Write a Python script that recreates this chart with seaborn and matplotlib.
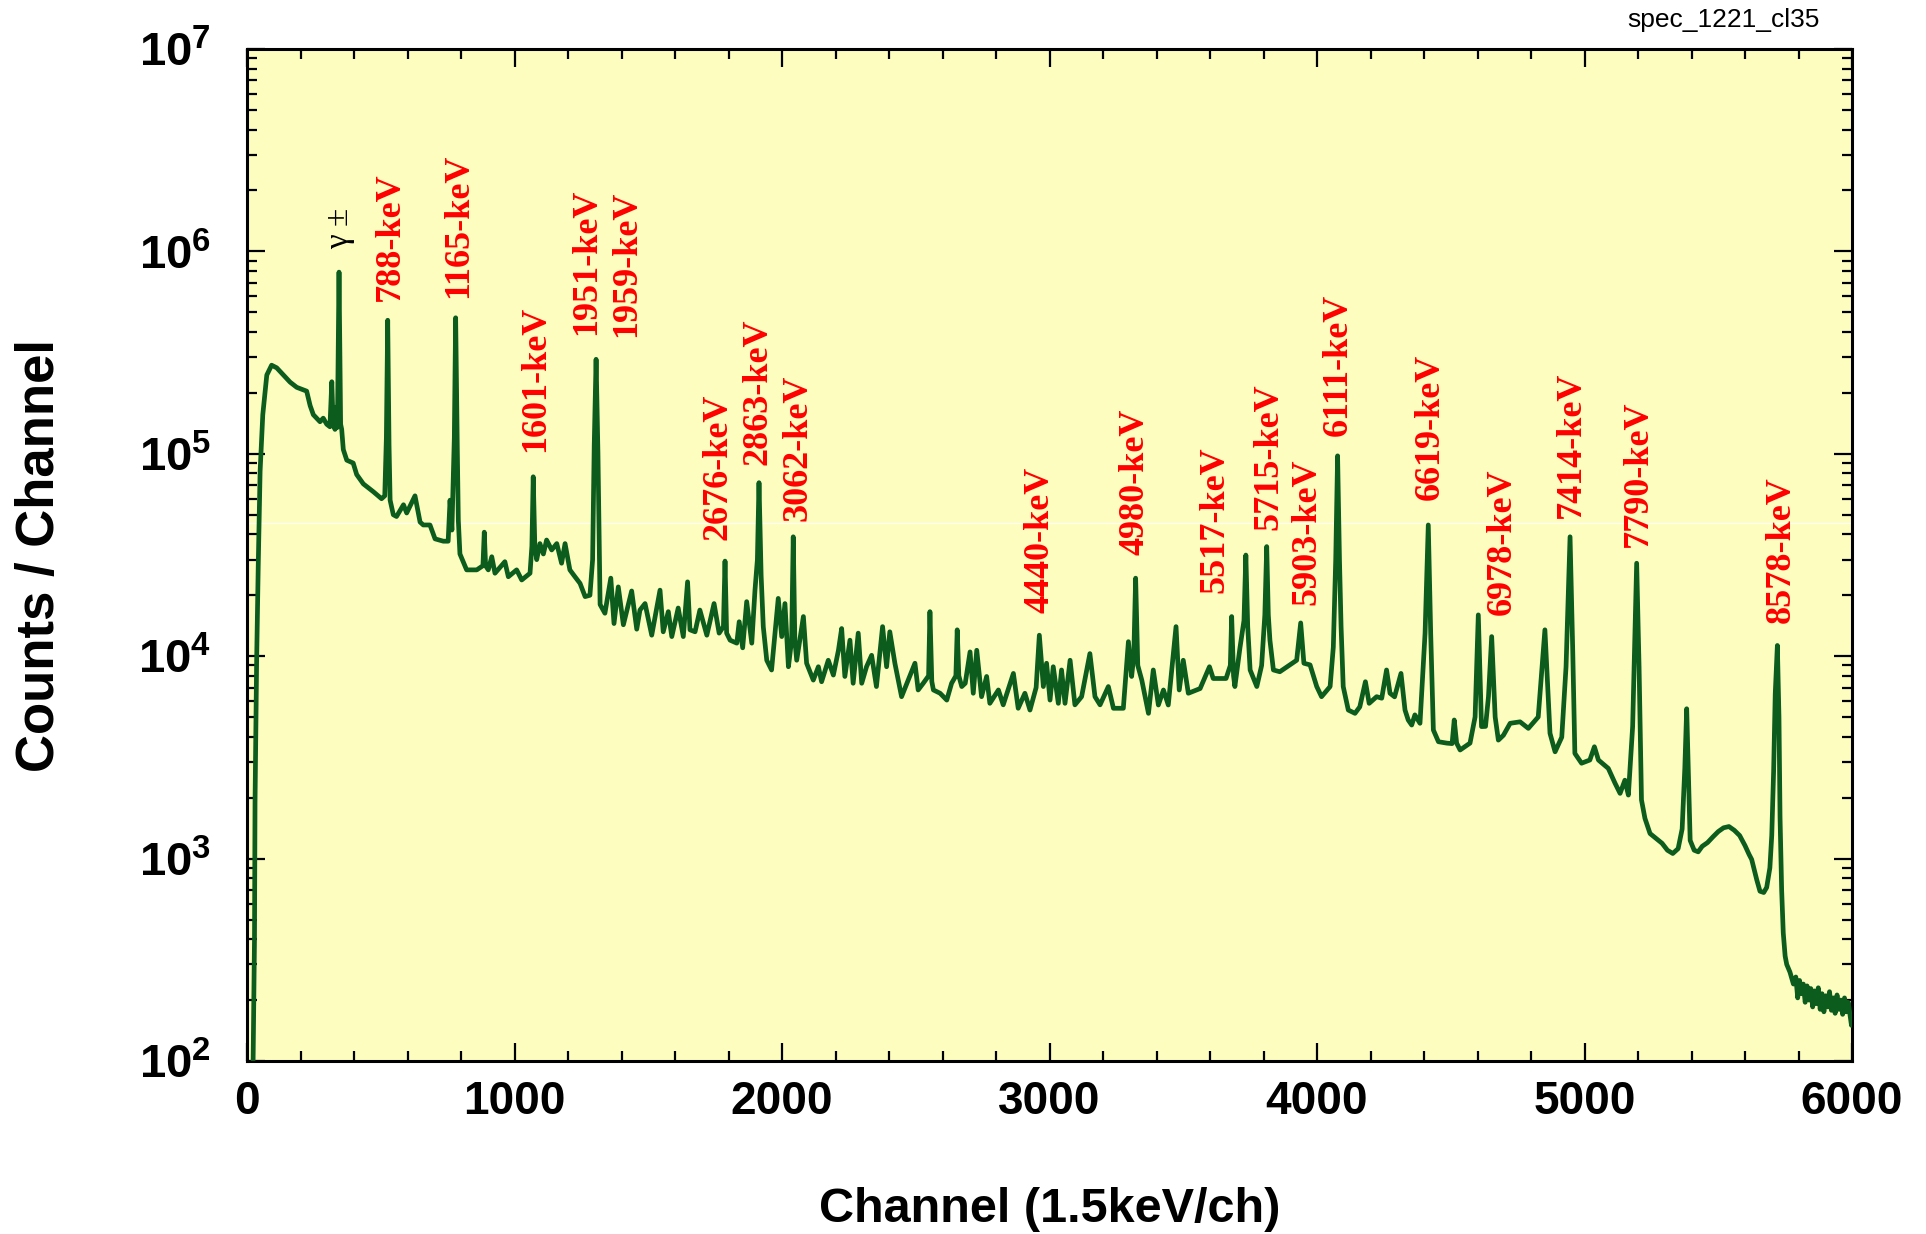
import matplotlib
matplotlib.use("Agg")
import matplotlib.pyplot as plt
from matplotlib.ticker import MultipleLocator, LogLocator, NullFormatter
import seaborn as sns
import pandas as pd

# ---------------- data ----------------
channel = [
    15, 22, 28, 30, 36, 42, 49, 59, 74, 92, 111, 136, 161, 186, 223, 236, 248, 273, 285, 298,
    310, 317, 322, 329, 334, 338, 344, 350, 354, 360, 373, 397, 410, 435, 472, 503, 515, 521,
    526, 531, 535, 547, 559, 585, 597, 628, 647, 659, 684, 703, 734, 752, 759, 766, 775, 780,
    786, 790, 796, 821, 859, 882, 887, 892, 902, 915, 927, 964, 977, 1008, 1027, 1058, 1065,
    1070, 1076, 1083, 1095, 1108, 1120, 1139, 1158, 1176, 1189, 1207, 1226, 1245, 1264, 1282,
    1292, 1298, 1305, 1312, 1320, 1338, 1360, 1372, 1388, 1407, 1438, 1457, 1469, 1488, 1513,
    1544, 1556, 1575, 1588, 1612, 1631, 1647, 1656, 1675, 1693, 1719, 1746, 1765, 1781, 1787,
    1793, 1806, 1831, 1840, 1853, 1868, 1887, 1899, 1908, 1914, 1922, 1930, 1943, 1961, 1986,
    1999, 2011, 2024, 2036, 2042, 2048, 2055, 2080, 2092, 2117, 2136, 2148, 2173, 2192, 2211,
    2223, 2235, 2254, 2266, 2285, 2298, 2316, 2335, 2353, 2376, 2391, 2403, 2422, 2447, 2472,
    2497, 2509, 2528, 2548, 2553, 2560, 2566, 2591, 2616, 2634, 2650, 2655, 2661, 2672, 2685,
    2703, 2715, 2728, 2746, 2765, 2777, 2809, 2827, 2865, 2883, 2908, 2927, 2950, 2962, 2977,
    2989, 3002, 3014, 3033, 3045, 3058, 3077, 3095, 3120, 3151, 3170, 3189, 3220, 3239, 3276,
    3295, 3307, 3315, 3322, 3330, 3345, 3370, 3388, 3407, 3426, 3444, 3473, 3485, 3500, 3519,
    3563, 3598, 3612, 3660, 3676, 3681, 3688, 3693, 3712, 3727, 3734, 3741, 3750, 3775, 3793,
    3805, 3812, 3818, 3824, 3837, 3861, 3899, 3924, 3939, 3951, 3974, 3999, 4017, 4049, 4061,
    4070, 4077, 4084, 4090, 4098, 4117, 4142, 4160, 4181, 4195, 4223, 4242, 4260, 4273, 4290,
    4314, 4329, 4341, 4354, 4366, 4385, 4404, 4416, 4425, 4435, 4454, 4485, 4505, 4513, 4522,
    4535, 4572, 4591, 4603, 4615, 4630, 4641, 4653, 4666, 4678, 4697, 4722, 4759, 4790, 4827,
    4852, 4871, 4890, 4915, 4931, 4946, 4956, 4964, 4989, 5020, 5037, 5052, 5089, 5114, 5133,
    5151, 5164, 5180, 5195, 5204, 5213, 5226, 5245, 5270, 5290, 5310, 5330, 5350, 5365, 5375,
    5382, 5389, 5395, 5410, 5425, 5440, 5460, 5480, 5500, 5520, 5540, 5560, 5580, 5600, 5615,
    5625, 5644, 5656, 5670, 5681, 5693, 5700, 5707, 5713, 5721, 5727, 5731, 5737, 5743, 5750,
    5756, 5768, 5781, 5790, 5797, 5804, 5811, 5818, 5825, 5832, 5839, 5846, 5853, 5860, 5867,
    5874, 5881, 5888, 5895, 5902, 5909, 5916, 5923, 5930, 5937, 5944, 5951, 5958, 5965, 5972,
    5979, 5986, 5993, 5998, 6000,
]
counts = [
    60, 80, 400, 1900, 9500, 28000, 82000, 156000, 245000, 274000, 266000, 245000, 226000, 213000,
    204000, 173000, 156000, 144000, 150000, 140000,
    136000, 227000, 140000, 132000, 170000, 135000, 790000, 140000, 132000, 105000, 93000, 90000,
    79000, 71000, 65000, 60000, 62000, 120000,
    457000, 110000, 59000, 50000, 49000, 56000, 51000, 62000, 46000, 44500, 44500, 38000, 37000,
    37000, 59000, 42000, 120000, 470000,
    110000, 47000, 32000, 26700, 26700, 28000, 41000, 28000, 26700, 31000, 25700, 29300, 24700,
    26700, 23800, 25700, 35000,
    77000, 35000, 30000, 36000, 32000, 37500, 33500, 36000, 28800, 36000, 26700, 24700, 22900,
    19700, 20000,
    30000, 110000, 293000, 100000, 18000, 16300, 24300, 14500, 22000, 14300, 21000, 13600, 16900,
    18200, 12700,
    21200, 13200, 16600, 12500, 17300, 12500, 23300, 13500, 13200, 16900, 12700, 18200, 13000,
    14000, 29500,
    13000, 12000, 11600, 14800, 11000, 18600, 11600, 21200, 30000, 72000, 25000, 14000, 9550,
    8550, 19300,
    12500, 18200, 8870, 12000, 38900, 12000, 9550, 15700, 9230, 7620, 8870, 7480, 9550, 8070,
    10700,
    13700, 7940, 12000, 7350, 13000, 7350, 8870, 10100, 7080, 14000, 8870, 13200, 9230, 6310,
    7620,
    9230, 6810, 7350, 8000, 16600, 7500, 6810, 6560, 6070, 7350, 8000, 13500, 8000, 7080, 7350,
    10500, 6560, 10700, 6310, 7940, 5850, 6810, 5750, 8220, 5530, 6560, 5420, 7000, 12700, 7080,
    9230, 6070, 8870, 5850, 8550, 5850, 9550, 5750, 6310, 10300, 6310, 5750, 7080, 5530, 5530,
    11800, 7940, 10000, 24300, 9000, 7620, 5220, 8550, 5740, 6810, 5740, 14000, 6810, 9550, 6560,
    6920, 8870, 7760, 7760, 9000, 15700, 8000, 7080, 11000, 15000, 31600, 14000, 8550, 7080, 9000,
    16000, 34800, 16000, 12000, 8550, 8380, 9060, 9550, 14600, 9230, 9060, 7080, 6310, 7080,
    11100,
    30000, 97700, 30000, 14000, 7080, 5420, 5220, 5620, 7480, 5850, 6310, 6200, 8550, 6560, 6300,
    8220, 5420, 4840, 4570, 5130, 4660, 13000, 44500, 13000, 4320, 3780, 3720, 3700, 4840, 3720,
    3440, 3720, 5010, 16000, 4490, 4500, 6310, 12500, 5010, 3850, 4070, 4660, 4740, 4400, 5010,
    13500, 4160, 3370, 3980, 8870, 38900, 10700, 3310, 2960, 3070, 3570, 3070, 2790, 2360, 2100,
    2440, 2060, 4500, 28800, 8870, 1950, 1580, 1330, 1250, 1190, 1100, 1060, 1120, 1400, 2800,
    5500, 2500, 1230, 1100, 1080, 1150, 1200, 1280, 1360, 1420, 1440, 1380, 1300, 1160, 1050,
    990, 785, 690, 680, 720, 900, 1300, 2700, 6500, 11300, 5000, 1600, 700, 430, 330,
    300, 275, 240, 260, 205, 250, 215, 240, 195, 235, 200, 228, 185, 222, 192,
    230, 180, 215, 175, 210, 185, 220, 178, 205, 172, 212, 180, 200, 170, 205,
    175, 195, 168, 150, 170,
]

peak_labels = ["788-keV", "1165-keV", "1601-keV", "1951-keV", "1959-keV", "2676-keV",
               "2863-keV", "3062-keV", "4440-keV", "4980-keV", "5517-keV", "5715-keV",
               "5903-keV", "6111-keV", "6619-keV", "6978-keV", "7414-keV", "7790-keV",
               "8578-keV"]
label_channel = [535, 790, 1080, 1270, 1419, 1762, 1911, 2061, 2964, 3320, 3619, 3822,
                 3961, 4080, 4425, 4694, 4952, 5201, 5737]
label_counts = [5.7e5, 5.86e5, 1.02e5, 3.86e5, 3.79e5, 3.75e4, 8.8e4, 4.68e4, 1.63e4,
                3.16e4, 2.05e4, 4.2e4, 1.79e4, 1.22e5, 5.9e4, 1.6e4, 4.8e4, 3.48e4, 1.46e4]

annih_label = "γ ±"
annih_channel = 348
annih_counts = 1.03e6

x_ticks = [0, 1000, 2000, 3000, 4000, 5000, 6000]
x_tick_labels = ["0", "1000", "2000", "3000", "4000", "5000", "6000"]
y_ticks = [1e2, 1e3, 1e4, 1e5, 1e6, 1e7]
y_tick_labels = [r"$\mathbf{10^{2}}$", r"$\mathbf{10^{3}}$", r"$\mathbf{10^{4}}$",
                 r"$\mathbf{10^{5}}$", r"$\mathbf{10^{6}}$", r"$\mathbf{10^{7}}$"]

x_label = "Channel (1.5keV/ch)"
y_label = "Counts / Channel"
corner_note = "spec_1221_cl35"
seam_level = 4.55e4

# ---------------- style ----------------
sns.set_theme(style="ticks")
plt.rcParams["font.family"] = ["Liberation Sans", "DejaVu Sans"]
plt.rcParams["mathtext.fontset"] = "custom"
plt.rcParams["mathtext.rm"] = "Liberation Sans"
plt.rcParams["mathtext.bf"] = "Liberation Sans:bold"
plt.rcParams["mathtext.it"] = "Liberation Sans:italic"
for key in ["text.color", "axes.labelcolor", "xtick.color", "ytick.color",
            "xtick.labelcolor", "ytick.labelcolor", "axes.edgecolor"]:
    plt.rcParams[key] = "black"

W, H = 1926, 1234
fig = plt.figure(figsize=(W / 100, H / 100), dpi=100)
fig.patch.set_facecolor("white")
ax = fig.add_axes([247 / W, 1 - 1061 / H, 1605 / W, 1012 / H])
ax.set_facecolor("#FDFDC0")

df = pd.DataFrame({"channel": channel, "counts": counts})
ax.axhline(seam_level, color="white", lw=0.9, alpha=0.8, zorder=1)
sns.lineplot(data=df, x="channel", y="counts", ax=ax, color="#0B5C1D", linewidth=3.4,
             estimator=None, sort=False, zorder=3)

ax.set_yscale("log")
ax.set_xlim(0, 6000)
ax.set_ylim(1e2, 1e7)

ax.set_xticks(x_ticks)
ax.set_xticklabels(x_tick_labels, fontsize=33, fontweight="bold", color="black")
ax.xaxis.set_minor_locator(MultipleLocator(200))
ax.set_yticks(y_ticks)
ax.set_yticklabels(y_tick_labels, fontsize=34, color="black")
ax.yaxis.set_minor_locator(LogLocator(base=10, subs=range(2, 10), numticks=20))
ax.yaxis.set_minor_formatter(NullFormatter())

ax.tick_params(which="both", direction="in", top=True, right=True, color="black", width=1.6)
ax.tick_params(which="major", length=13)
ax.tick_params(which="minor", length=7)
ax.tick_params(axis="x", which="major", pad=14)
ax.tick_params(axis="y", which="major", pad=26)

for sp in ax.spines.values():
    sp.set_visible(True)
    sp.set_color("black")
    sp.set_linewidth(2.2)

ax.set_xlabel(x_label, fontsize=35, fontweight="bold", color="black")
ax.set_ylabel(y_label, fontsize=38, fontweight="bold", color="black")
ax.xaxis.set_label_coords(0.5, -0.147)
ax.xaxis.label.set_va("center")
ax.yaxis.set_label_coords(-0.129, 0.5)
ax.yaxis.label.set_va("center")

for lab, cx, cy in zip(peak_labels, label_channel, label_counts):
    ax.text(cx, cy, lab, rotation=90, ha="center", va="bottom", color="#FF0000",
            fontsize=26, fontweight="bold", family="Liberation Serif", zorder=4)

ax.text(annih_channel, annih_counts, annih_label, rotation=90, ha="center", va="bottom",
        color="black", fontsize=24, family="Liberation Serif", zorder=4)

fig.text(1820 / W, 1 - 20 / H, corner_note, ha="right", va="center", fontsize=19,
         family="Liberation Sans", color="black")

fig.savefig("out.png", dpi=100)
